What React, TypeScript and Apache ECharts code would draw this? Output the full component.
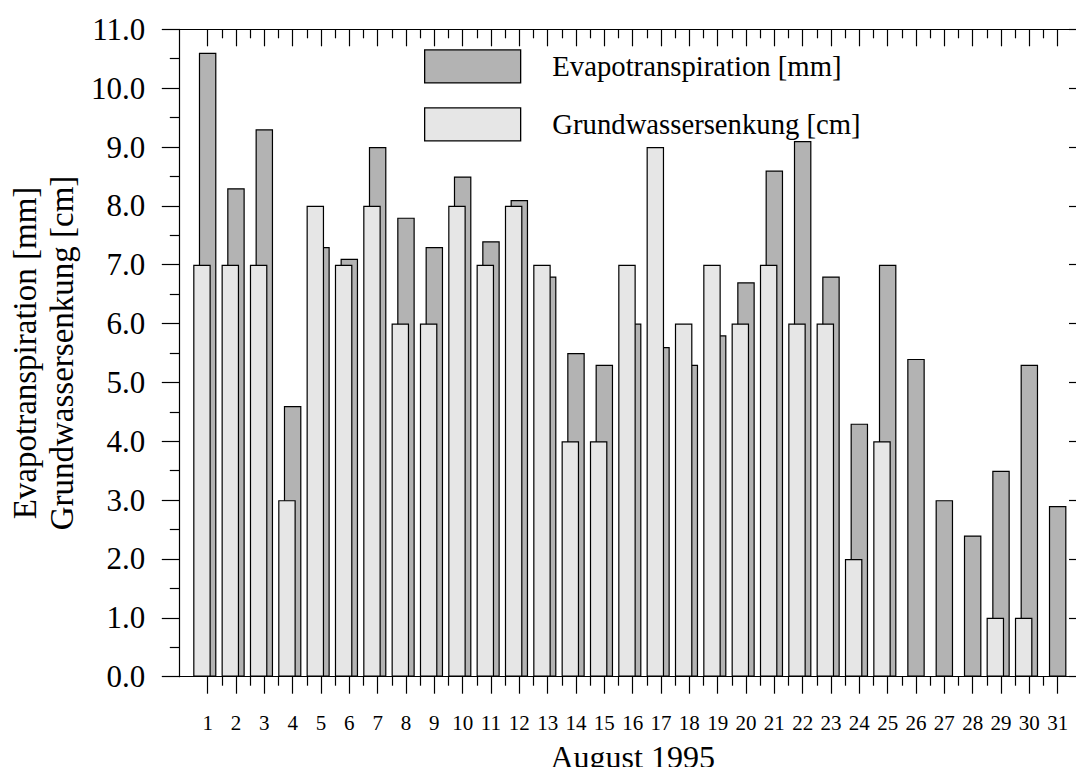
import React, { useEffect, useRef } from "react";
import * as echarts from "echarts";

// Days of August 1995
const days = [1, 2, 3, 4, 5, 6, 7, 8, 9, 10, 11, 12, 13, 14, 15, 16, 17, 18, 19, 20, 21, 22, 23, 24, 25, 26, 27, 28, 29, 30, 31];

// Daily evapotranspiration [mm]
const evapotranspiration = [10.6, 8.3, 9.3, 4.6, 7.3, 7.1, 9.0, 7.8, 7.3, 8.5, 7.4, 8.1, 6.8, 5.5, 5.3, 6.0, 5.6, 5.3, 5.8, 6.7, 8.6, 9.1, 6.8, 4.3, 7.0, 5.4, 3.0, 2.4, 3.5, 5.3, 2.9];

// Daily groundwater drawdown [cm] (null = no drawdown)
const grundwassersenkung = [7, 7, 7, 3, 8, 7, 8, 6, 6, 8, 7, 8, 7, 4, 4, 7, 9, 6, 7, 6, 7, 6, 6, 2, 4, null, null, null, 1, 1, null];

const seriesNames = ["Evapotranspiration [mm]", "Grundwassersenkung [cm]"];
const yAxisTitle = "Evapotranspiration [mm]\nGrundwassersenkung [cm]";
const xAxisTitle = "August 1995";

const FONT = '"Liberation Serif", "Times New Roman", serif';

export default function App() {
  const ref = useRef<HTMLDivElement>(null);

  useEffect(() => {
    const chart = echarts.init(ref.current!, null, { renderer: "svg" });
    const halfDays = days.slice(0, -1).map((d) => d + 0.5);
    const line = { show: true, onZero: false, lineStyle: { color: "#000", width: 1.2 } };
    const noSplit = { show: false };

    const xBase = (extra: any) => ({
      type: "value",
      min: 0,
      max: 32,
      gridIndex: 0,
      splitLine: noSplit,
      axisLabel: { show: false },
      axisLine: { show: false, onZero: false },
      axisTick: { show: false },
      ...extra,
    });

    const option: any = {
      animation: false,
      grid: {
        left: 179.3,
        top: 29.3,
        width: 906.7,
        height: 647.4,
        containLabel: false,
        outerBoundsMode: "none",
      },
      legend: {
        data: seriesNames,
        orient: "vertical",
        left: 424,
        top: 49.3,
        padding: 0,
        itemWidth: 96,
        itemHeight: 33,
        itemGap: 23.7,
        icon: "rect",
        selectedMode: false,
        itemStyle: { borderColor: "#000", borderWidth: 1.3 },
        textStyle: { fontFamily: FONT, fontSize: 28.7, color: "#000", padding: [0, 0, 0, 26.7] },
      },
      xAxis: [
        // bottom axis: day ticks and labels
        xBase({
          position: "bottom",
          axisLine: line,
          axisTick: { show: true, length: 17, customValues: days, lineStyle: { color: "#000", width: 1.2 } },
          axisLabel: {
            show: true,
            customValues: days,
            fontFamily: FONT,
            fontSize: 21,
            color: "#000",
            margin: 36,
          },
          name: xAxisTitle,
          nameLocation: "middle",
          nameGap: 64,
          nameTextStyle: { fontFamily: FONT, fontSize: 32, color: "#000" },
        }),
        // bottom axis: half-day ticks
        xBase({
          position: "bottom",
          axisTick: { show: true, length: 9, customValues: halfDays, lineStyle: { color: "#000", width: 1.2 } },
        }),
        // top axis: day ticks pointing inward
        xBase({
          position: "top",
          axisLine: line,
          axisTick: { show: true, inside: true, length: 17, customValues: days, lineStyle: { color: "#000", width: 1.2 } },
        }),
        // top axis: half-day ticks pointing inward
        xBase({
          position: "top",
          axisTick: { show: true, inside: true, length: 9, customValues: halfDays, lineStyle: { color: "#000", width: 1.2 } },
        }),
        // shifted axis placing the groundwater bars slightly left of each day
        xBase({ show: false, min: 0.2, max: 32.2 }),
      ],
      yAxis: [
        {
          type: "value",
          position: "left",
          min: 0,
          max: 11,
          interval: 1,
          splitLine: noSplit,
          axisLine: line,
          axisTick: { show: true, length: 17.5, lineStyle: { color: "#000", width: 1.2 } },
          minorTick: { show: true, splitNumber: 2, length: 9.5, lineStyle: { color: "#000", width: 1.2 } },
          minorSplitLine: { show: false },
          axisLabel: {
            fontFamily: FONT,
            fontSize: 31,
            color: "#000",
            margin: 34,
            formatter: (v: number) => v.toFixed(1),
          },
          name: yAxisTitle,
          nameLocation: "middle",
          nameGap: 97,
          nameRotate: 90,
          nameTextStyle: { fontFamily: FONT, fontSize: 33, lineHeight: 36.5, color: "#000", align: "center" },
        },
        {
          type: "value",
          position: "right",
          min: 0,
          max: 11,
          interval: 1,
          splitLine: noSplit,
          axisLine: line,
          axisTick: { show: true, inside: true, length: 17, lineStyle: { color: "#000", width: 1.2 } },
          minorTick: { show: true, splitNumber: 2, length: 9, lineStyle: { color: "#000", width: 1.2 } },
          axisLabel: { show: false },
        },
      ],
      series: [
        {
          type: "bar",
          name: seriesNames[0],
          xAxisIndex: 0,
          yAxisIndex: 0,
          barWidth: 17.5,
          data: days.map((d, i) => [d, evapotranspiration[i]]),
          itemStyle: { color: "#b3b3b3", borderColor: "#000", borderWidth: 1.2 },
          silent: true,
        },
        {
          type: "bar",
          name: seriesNames[1],
          xAxisIndex: 4,
          yAxisIndex: 0,
          barWidth: 17.5,
          data: days.map((d, i) => [d, grundwassersenkung[i]]),
          itemStyle: { color: "#e6e6e6", borderColor: "#000", borderWidth: 1.2 },
          silent: true,
        },
      ],
    };

    chart.setOption(option);
    return () => chart.dispose();
  }, []);

  return (
    <div
      style={{ position: "fixed", left: 0, top: 0, width: 1076, height: 767, overflow: "hidden", background: "#fff" }}
    >
      <div ref={ref} style={{ width: 1076, height: 767 }} />
    </div>
  );
}
